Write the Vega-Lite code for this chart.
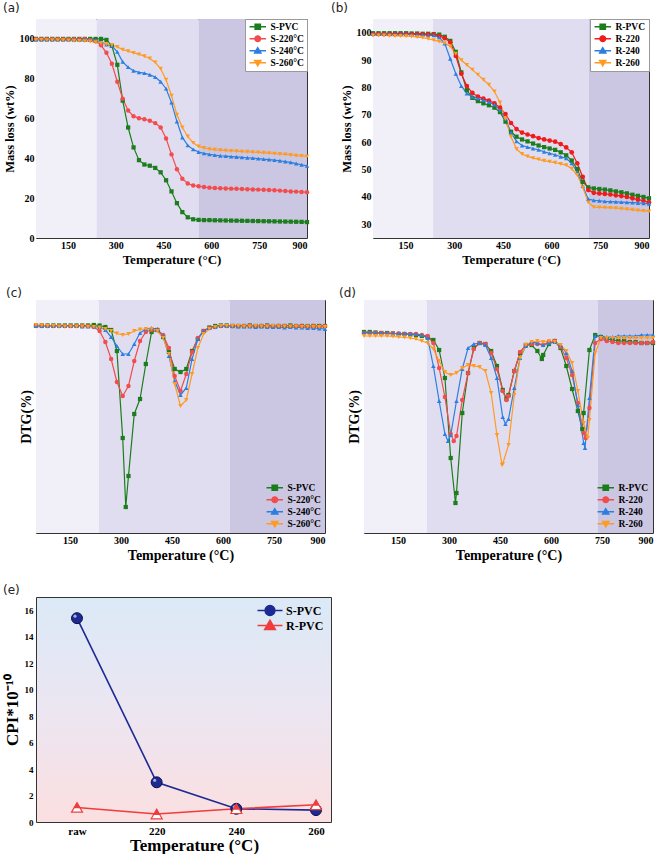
{
"$schema": "https://vega.github.io/schema/vega-lite/v6.json",
"padding": {"left": 2, "top": 1, "right": 0, "bottom": 0},
"background": "white",
"config": {
  "font": "Liberation Serif",
  "view": {"stroke": "#333", "strokeWidth": 1},
  "axis": {"labelFont": "Liberation Serif", "labelFontWeight": "bold", "labelFontSize": 10, "labelColor": "#000", "titleFont": "Liberation Serif", "titleFontWeight": "bold", "titleFontSize": 12.5, "titleColor": "#000", "domain": false, "grid": false, "ticks": false, "labelPadding": 2, "titlePadding": 3, "minExtent": 0},
  "title": {"anchor": "start", "frame": "bounds", "font": "DejaVu Sans", "fontSize": 12, "fontWeight": "normal", "color": "#222", "offset": 4},
  "legend": {"padding": 3, "offset": 0, "labelFont": "Liberation Serif", "labelFontWeight": "bold", "labelFontSize": 9.5, "labelColor": "#000", "symbolSize": 40, "symbolStrokeWidth": 1.3, "symbolOffset": 5, "labelOffset": 8, "rowPadding": 1, "cornerRadius": 0}
},
"datasets": {
"A": [
{"t":50,"S-PVC":100,"S-220°C":99.8,"S-240°C":99.6,"S-260°C":99.5},
{"t":67,"S-PVC":100,"S-220°C":99.8,"S-240°C":99.6,"S-260°C":99.5},
{"t":84,"S-PVC":100,"S-220°C":99.8,"S-240°C":99.6,"S-260°C":99.4},
{"t":101,"S-PVC":100,"S-220°C":99.8,"S-240°C":99.6,"S-260°C":99.4},
{"t":118,"S-PVC":100,"S-220°C":99.8,"S-240°C":99.6,"S-260°C":99.3},
{"t":135,"S-PVC":100,"S-220°C":99.8,"S-240°C":99.6,"S-260°C":99.3},
{"t":152,"S-PVC":100,"S-220°C":99.8,"S-240°C":99.6,"S-260°C":99.2},
{"t":169,"S-PVC":100,"S-220°C":99.8,"S-240°C":99.6,"S-260°C":99.1},
{"t":186,"S-PVC":100,"S-220°C":99.8,"S-240°C":99.6,"S-260°C":99.0},
{"t":203,"S-PVC":100,"S-220°C":99.8,"S-240°C":99.6,"S-260°C":98.9},
{"t":220,"S-PVC":100,"S-220°C":99.5,"S-240°C":99.6,"S-260°C":98.7},
{"t":237,"S-PVC":100,"S-220°C":98.8,"S-240°C":99.3,"S-260°C":98.3},
{"t":254,"S-PVC":100,"S-220°C":96.8,"S-240°C":98.5,"S-260°C":97.8},
{"t":271,"S-PVC":99.5,"S-220°C":93,"S-240°C":97.2,"S-260°C":97.3},
{"t":288,"S-PVC":96.5,"S-220°C":87.5,"S-240°C":96.5,"S-260°C":96.8},
{"t":305,"S-PVC":87,"S-220°C":78.5,"S-240°C":93.5,"S-260°C":96},
{"t":322,"S-PVC":69,"S-220°C":70,"S-240°C":88.5,"S-260°C":94.6},
{"t":339,"S-PVC":55.5,"S-220°C":64,"S-240°C":85.8,"S-260°C":93.8},
{"t":356,"S-PVC":45.5,"S-220°C":61.2,"S-240°C":84,"S-260°C":93},
{"t":373,"S-PVC":39.1,"S-220°C":60.2,"S-240°C":83.2,"S-260°C":92.2},
{"t":390,"S-PVC":36.9,"S-220°C":59.7,"S-240°C":82.8,"S-260°C":91.3},
{"t":407,"S-PVC":36.3,"S-220°C":58.9,"S-240°C":82,"S-260°C":90.2},
{"t":424,"S-PVC":35.2,"S-220°C":57.7,"S-240°C":80.8,"S-260°C":88.2},
{"t":441,"S-PVC":33,"S-220°C":55.5,"S-240°C":78.5,"S-260°C":85},
{"t":458,"S-PVC":29,"S-220°C":50,"S-240°C":75,"S-260°C":79.5},
{"t":475,"S-PVC":23.4,"S-220°C":42,"S-240°C":68,"S-260°C":71.5},
{"t":492,"S-PVC":17.5,"S-220°C":34.5,"S-240°C":58.5,"S-260°C":62},
{"t":509,"S-PVC":13,"S-220°C":29.8,"S-240°C":50.5,"S-260°C":55.5},
{"t":526,"S-PVC":10.4,"S-220°C":27.4,"S-240°C":46.5,"S-260°C":51},
{"t":543,"S-PVC":9.4,"S-220°C":26.4,"S-240°C":44.5,"S-260°C":47.8},
{"t":560,"S-PVC":9.1,"S-220°C":26,"S-240°C":43.2,"S-260°C":46},
{"t":577,"S-PVC":9.0,"S-220°C":25.6,"S-240°C":42.5,"S-260°C":45.2},
{"t":594,"S-PVC":9.0,"S-220°C":25.3,"S-240°C":42,"S-260°C":44.6},
{"t":611,"S-PVC":8.9,"S-220°C":25.1,"S-240°C":41.6,"S-260°C":44.3},
{"t":628,"S-PVC":8.85,"S-220°C":25,"S-240°C":41.3,"S-260°C":44.1},
{"t":645,"S-PVC":8.8,"S-220°C":24.9,"S-240°C":41.1,"S-260°C":43.9},
{"t":662,"S-PVC":8.75,"S-220°C":24.8,"S-240°C":40.9,"S-260°C":43.7},
{"t":679,"S-PVC":8.7,"S-220°C":24.7,"S-240°C":40.7,"S-260°C":43.6},
{"t":696,"S-PVC":8.65,"S-220°C":24.6,"S-240°C":40.5,"S-260°C":43.4},
{"t":713,"S-PVC":8.6,"S-220°C":24.5,"S-240°C":40.3,"S-260°C":43.3},
{"t":730,"S-PVC":8.55,"S-220°C":24.4,"S-240°C":40.1,"S-260°C":43.1},
{"t":747,"S-PVC":8.5,"S-220°C":24.3,"S-240°C":39.9,"S-260°C":43},
{"t":764,"S-PVC":8.45,"S-220°C":24.2,"S-240°C":39.6,"S-260°C":42.8},
{"t":781,"S-PVC":8.4,"S-220°C":24.1,"S-240°C":39.4,"S-260°C":42.6},
{"t":798,"S-PVC":8.35,"S-220°C":24,"S-240°C":39.1,"S-260°C":42.4},
{"t":815,"S-PVC":8.3,"S-220°C":23.8,"S-240°C":38.8,"S-260°C":42.2},
{"t":832,"S-PVC":8.25,"S-220°C":23.6,"S-240°C":38.4,"S-260°C":42},
{"t":849,"S-PVC":8.2,"S-220°C":23.4,"S-240°C":38,"S-260°C":41.7},
{"t":866,"S-PVC":8.15,"S-220°C":23.3,"S-240°C":37.4,"S-260°C":41.4},
{"t":883,"S-PVC":8.1,"S-220°C":23.1,"S-240°C":36.8,"S-260°C":41.2},
{"t":900,"S-PVC":8.0,"S-220°C":23,"S-240°C":36.2,"S-260°C":41}
],
"B": [
{"t":50,"R-PVC":99.8,"R-220":99.5,"R-240":99.5,"R-260":99},
{"t":67,"R-PVC":99.8,"R-220":99.5,"R-240":99.5,"R-260":99},
{"t":84,"R-PVC":99.8,"R-220":99.5,"R-240":99.5,"R-260":99},
{"t":101,"R-PVC":99.8,"R-220":99.5,"R-240":99.5,"R-260":98.9},
{"t":118,"R-PVC":99.8,"R-220":99.5,"R-240":99.5,"R-260":98.8},
{"t":135,"R-PVC":99.8,"R-220":99.5,"R-240":99.5,"R-260":98.8},
{"t":152,"R-PVC":99.8,"R-220":99.5,"R-240":99.5,"R-260":98.7},
{"t":169,"R-PVC":99.7,"R-220":99.5,"R-240":99.4,"R-260":98.6},
{"t":186,"R-PVC":99.7,"R-220":99.4,"R-240":99.3,"R-260":98.4},
{"t":203,"R-PVC":99.6,"R-220":99.4,"R-240":99.2,"R-260":98.2},
{"t":220,"R-PVC":99.6,"R-220":99.4,"R-240":99.1,"R-260":97.8},
{"t":237,"R-PVC":99.5,"R-220":99.3,"R-240":99,"R-260":97.3},
{"t":254,"R-PVC":99.3,"R-220":98.8,"R-240":98.3,"R-260":96.8},
{"t":271,"R-PVC":98.5,"R-220":98,"R-240":96,"R-260":96.2},
{"t":288,"R-PVC":97,"R-220":96.5,"R-240":90.5,"R-260":95},
{"t":305,"R-PVC":93,"R-220":91.5,"R-240":85,"R-260":92.3},
{"t":322,"R-PVC":85.5,"R-220":85,"R-240":80.5,"R-260":90},
{"t":339,"R-PVC":79,"R-220":80.5,"R-240":77.8,"R-260":88.2},
{"t":356,"R-PVC":76.2,"R-220":78,"R-240":76.6,"R-260":86.5},
{"t":373,"R-PVC":75,"R-220":76.7,"R-240":76,"R-260":84.7},
{"t":390,"R-PVC":74.2,"R-220":75.9,"R-240":75.4,"R-260":82.8},
{"t":407,"R-PVC":73.5,"R-220":75.2,"R-240":74.7,"R-260":81},
{"t":424,"R-PVC":72.6,"R-220":74.2,"R-240":73.7,"R-260":78.5},
{"t":441,"R-PVC":71,"R-220":72.6,"R-240":71.8,"R-260":74.5},
{"t":458,"R-PVC":67.5,"R-220":70.3,"R-240":68.5,"R-260":68.5},
{"t":475,"R-PVC":63.8,"R-220":67,"R-240":63.5,"R-260":62},
{"t":492,"R-PVC":62,"R-220":64.8,"R-240":60.3,"R-260":57.5},
{"t":509,"R-PVC":61,"R-220":63.5,"R-240":58.8,"R-260":55.7},
{"t":526,"R-PVC":60.3,"R-220":62.8,"R-240":58.2,"R-260":54.8},
{"t":543,"R-PVC":59.5,"R-220":62.2,"R-240":57.7,"R-260":54.2},
{"t":560,"R-PVC":58.8,"R-220":61.5,"R-240":57.2,"R-260":53.7},
{"t":577,"R-PVC":58.2,"R-220":61,"R-240":56.5,"R-260":53.2},
{"t":594,"R-PVC":57.7,"R-220":60.6,"R-240":55.9,"R-260":52.9},
{"t":611,"R-PVC":57.2,"R-220":60.2,"R-240":55.4,"R-260":52.5},
{"t":628,"R-PVC":56.3,"R-220":59.3,"R-240":54.7,"R-260":52.1},
{"t":645,"R-PVC":55.2,"R-220":58.1,"R-240":54.1,"R-260":51.6},
{"t":662,"R-PVC":53.3,"R-220":56.3,"R-240":52.3,"R-260":50.3},
{"t":679,"R-PVC":50.2,"R-220":52.3,"R-240":49,"R-260":48},
{"t":696,"R-PVC":45.5,"R-220":47.3,"R-240":44,"R-260":43.5},
{"t":713,"R-PVC":43.5,"R-220":42.5,"R-240":39.2,"R-260":38},
{"t":730,"R-PVC":43.1,"R-220":41.5,"R-240":38.8,"R-260":36.3},
{"t":747,"R-PVC":42.9,"R-220":41.3,"R-240":38.6,"R-260":36.2},
{"t":764,"R-PVC":42.7,"R-220":41.1,"R-240":38.4,"R-260":36.1},
{"t":781,"R-PVC":42.4,"R-220":40.9,"R-240":38.3,"R-260":36},
{"t":798,"R-PVC":42,"R-220":40.6,"R-240":38.2,"R-260":35.9},
{"t":815,"R-PVC":41.7,"R-220":40.3,"R-240":38.1,"R-260":35.7},
{"t":832,"R-PVC":41.3,"R-220":40,"R-240":38,"R-260":35.5},
{"t":849,"R-PVC":40.8,"R-220":39.5,"R-240":37.9,"R-260":35.3},
{"t":866,"R-PVC":40.4,"R-220":39,"R-240":37.8,"R-260":35.1},
{"t":883,"R-PVC":40,"R-220":38.6,"R-240":37.7,"R-260":34.9},
{"t":900,"R-PVC":39.5,"R-220":38,"R-240":37.5,"R-260":34.7}
],
"C": [
{"t":50,"S-PVC":0.5,"S-220°C":0,"S-240°C":0,"S-260°C":1},
{"t":67,"S-PVC":0.5,"S-220°C":0,"S-240°C":0,"S-260°C":0.5},
{"t":84,"S-PVC":0.5,"S-220°C":0,"S-240°C":0,"S-260°C":0},
{"t":101,"S-PVC":0.5,"S-220°C":0,"S-240°C":0,"S-260°C":0},
{"t":118,"S-PVC":0.5,"S-220°C":0,"S-240°C":0,"S-260°C":-0.5},
{"t":135,"S-PVC":0.5,"S-220°C":0,"S-240°C":0,"S-260°C":-0.5},
{"t":152,"S-PVC":0.5,"S-220°C":0,"S-240°C":0,"S-260°C":-0.5},
{"t":169,"S-PVC":0.5,"S-220°C":0,"S-240°C":0,"S-260°C":-0.5},
{"t":186,"S-PVC":0.5,"S-220°C":0,"S-240°C":-0.5,"S-260°C":-0.5},
{"t":203,"S-PVC":0.5,"S-220°C":0,"S-240°C":-0.5,"S-260°C":-1},
{"t":220,"S-PVC":1,"S-220°C":-1,"S-240°C":-0.5,"S-260°C":-1},
{"t":237,"S-PVC":0.5,"S-220°C":-5,"S-240°C":-1,"S-260°C":-1.5},
{"t":254,"S-PVC":-1,"S-220°C":-16,"S-240°C":-4,"S-260°C":-3},
{"t":271,"S-PVC":-4,"S-220°C":-33,"S-240°C":-11,"S-260°C":-5},
{"t":288,"S-PVC":-25,"S-220°C":-56,"S-240°C":-20,"S-260°C":-7.5},
{"t":305,"S-PVC":-112,"S-220°C":-70,"S-240°C":-28,"S-260°C":-9},
{"t":314,"S-PVC":-181},
{"t":322,"S-PVC":-150,"S-220°C":-60,"S-240°C":-28,"S-260°C":-8},
{"t":339,"S-PVC":-88,"S-220°C":-35,"S-240°C":-18,"S-260°C":-5},
{"t":356,"S-PVC":-73,"S-220°C":-15,"S-240°C":-7,"S-260°C":-3.5},
{"t":373,"S-PVC":-38,"S-220°C":-6,"S-240°C":-3,"S-260°C":-3},
{"t":390,"S-PVC":-6,"S-220°C":-4,"S-240°C":-2,"S-260°C":-3},
{"t":407,"S-PVC":-4,"S-220°C":-4,"S-240°C":-3,"S-260°C":-5},
{"t":424,"S-PVC":-11,"S-220°C":-9,"S-240°C":-10,"S-260°C":-12},
{"t":441,"S-PVC":-26,"S-220°C":-22,"S-240°C":-30,"S-260°C":-28},
{"t":458,"S-PVC":-43,"S-220°C":-50,"S-240°C":-55,"S-260°C":-58},
{"t":475,"S-PVC":-46,"S-220°C":-65,"S-240°C":-69,"S-260°C":-80},
{"t":492,"S-PVC":-43,"S-220°C":-48,"S-240°C":-62,"S-260°C":-74},
{"t":509,"S-PVC":-25,"S-220°C":-26,"S-240°C":-33,"S-260°C":-48},
{"t":526,"S-PVC":-13,"S-220°C":-12,"S-240°C":-13,"S-260°C":-22},
{"t":543,"S-PVC":-5,"S-220°C":-5,"S-240°C":-5,"S-260°C":-8},
{"t":560,"S-PVC":-1.5,"S-220°C":-2,"S-240°C":-2,"S-260°C":-3},
{"t":577,"S-PVC":0,"S-220°C":-1,"S-240°C":-1,"S-260°C":-1},
{"t":594,"S-PVC":0.5,"S-220°C":0,"S-240°C":0,"S-260°C":0},
{"t":611,"S-PVC":0.5,"S-220°C":0,"S-240°C":0,"S-260°C":0},
{"t":628,"S-PVC":0,"S-220°C":0,"S-240°C":0,"S-260°C":0},
{"t":645,"S-PVC":0,"S-220°C":0,"S-240°C":-0.5,"S-260°C":0},
{"t":662,"S-PVC":0,"S-220°C":0,"S-240°C":-0.5,"S-260°C":-0.5},
{"t":679,"S-PVC":0.5,"S-220°C":0,"S-240°C":-0.5,"S-260°C":-0.5},
{"t":696,"S-PVC":0,"S-220°C":-0.5,"S-240°C":-1,"S-260°C":0},
{"t":713,"S-PVC":0,"S-220°C":0,"S-240°C":-0.5,"S-260°C":-0.5},
{"t":730,"S-PVC":0.5,"S-220°C":0,"S-240°C":-1,"S-260°C":-0.5},
{"t":747,"S-PVC":0,"S-220°C":-0.5,"S-240°C":-1,"S-260°C":0},
{"t":764,"S-PVC":0,"S-220°C":0,"S-240°C":-1,"S-260°C":-0.5},
{"t":781,"S-PVC":0,"S-220°C":0,"S-240°C":-1.5,"S-260°C":-0.5},
{"t":798,"S-PVC":0.5,"S-220°C":-0.5,"S-240°C":-1,"S-260°C":-0.5},
{"t":815,"S-PVC":0,"S-220°C":0,"S-240°C":-1.5,"S-260°C":-0.5},
{"t":832,"S-PVC":0,"S-220°C":0,"S-240°C":-1.5,"S-260°C":-1},
{"t":849,"S-PVC":0,"S-220°C":-0.5,"S-240°C":-2,"S-260°C":-0.5},
{"t":866,"S-PVC":0,"S-220°C":0,"S-240°C":-2,"S-260°C":-1},
{"t":883,"S-PVC":0,"S-220°C":-0.5,"S-240°C":-2.5,"S-260°C":-1},
{"t":900,"S-PVC":0,"S-220°C":0,"S-240°C":-3,"S-260°C":-1}
],
"D": [
{"t":50,"R-PVC":1,"R-220":0,"R-240":0.5,"R-260":-3},
{"t":67,"R-PVC":1,"R-220":0,"R-240":0.5,"R-260":-3},
{"t":84,"R-PVC":0.5,"R-220":0,"R-240":0,"R-260":-3},
{"t":101,"R-PVC":0,"R-220":0,"R-240":0,"R-260":-3},
{"t":118,"R-PVC":0,"R-220":-0.5,"R-240":0,"R-260":-3},
{"t":135,"R-PVC":-0.5,"R-220":-0.5,"R-240":-0.5,"R-260":-3.5},
{"t":152,"R-PVC":-1,"R-220":-0.5,"R-240":-0.5,"R-260":-4},
{"t":169,"R-PVC":-1,"R-220":-1,"R-240":-0.5,"R-260":-4.5},
{"t":186,"R-PVC":-1.5,"R-220":-1,"R-240":-1,"R-260":-5},
{"t":203,"R-PVC":-2,"R-220":-1,"R-240":-1,"R-260":-6},
{"t":220,"R-PVC":-3,"R-220":-2,"R-240":-2,"R-260":-8},
{"t":237,"R-PVC":-4,"R-220":-3,"R-240":-5,"R-260":-10},
{"t":254,"R-PVC":-7,"R-220":-10,"R-240":-33,"R-260":-16},
{"t":271,"R-PVC":-17,"R-220":-35,"R-240":-68,"R-260":-28},
{"t":288,"R-PVC":-45,"R-220":-64,"R-240":-101,"R-260":-39},
{"t":297,"R-240":-108},
{"t":305,"R-PVC":-125,"R-220":-101,"R-240":-102,"R-260":-42},
{"t":314,"R-220":-108},
{"t":319,"R-PVC":-170},
{"t":322,"R-PVC":-160,"R-220":-103,"R-240":-68,"R-260":-40},
{"t":339,"R-PVC":-80,"R-220":-67,"R-240":-36,"R-260":-35},
{"t":356,"R-PVC":-40,"R-220":-40,"R-240":-15,"R-260":-32},
{"t":373,"R-PVC":-15,"R-220":-16,"R-240":-11,"R-260":-33},
{"t":390,"R-PVC":-10,"R-220":-10,"R-240":-10,"R-260":-34},
{"t":407,"R-PVC":-11,"R-220":-11,"R-240":-12,"R-260":-38},
{"t":424,"R-PVC":-18,"R-220":-20,"R-240":-25,"R-260":-60},
{"t":441,"R-PVC":-33,"R-220":-36,"R-240":-45,"R-260":-102},
{"t":456,"R-260":-132},
{"t":458,"R-PVC":-57,"R-220":-58,"R-240":-84,"R-260":-131},
{"t":466,"R-240":-91},
{"t":469,"R-PVC":-66,"R-220":-67},
{"t":475,"R-PVC":-62,"R-220":-63,"R-240":-86,"R-260":-112},
{"t":492,"R-PVC":-38,"R-220":-38,"R-240":-55,"R-260":-62},
{"t":509,"R-PVC":-20,"R-220":-19,"R-240":-25,"R-260":-25},
{"t":526,"R-PVC":-12,"R-220":-12,"R-240":-13,"R-260":-12},
{"t":543,"R-PVC":-12,"R-220":-11,"R-240":-9,"R-260":-9},
{"t":560,"R-PVC":-18,"R-220":-11,"R-240":-10,"R-260":-8},
{"t":573,"R-PVC":-26},
{"t":577,"R-PVC":-22,"R-220":-12,"R-240":-12,"R-260":-9},
{"t":594,"R-PVC":-11,"R-220":-9,"R-240":-10,"R-260":-8},
{"t":611,"R-PVC":-8,"R-220":-8,"R-240":-9,"R-260":-9},
{"t":628,"R-PVC":-15,"R-220":-14,"R-240":-12,"R-260":-12},
{"t":645,"R-PVC":-33,"R-220":-25,"R-240":-20,"R-260":-18},
{"t":662,"R-PVC":-56,"R-220":-42,"R-240":-38,"R-260":-30},
{"t":679,"R-PVC":-78,"R-220":-70,"R-240":-72,"R-260":-58},
{"t":692,"R-PVC":-96},
{"t":696,"R-PVC":-80,"R-220":-100,"R-240":-110,"R-260":-90},
{"t":700,"R-240":-115},
{"t":702,"R-220":-105},
{"t":708,"R-260":-105},
{"t":713,"R-PVC":-17,"R-220":-75,"R-240":-65,"R-260":-87},
{"t":730,"R-PVC":-2,"R-220":-10,"R-240":-3,"R-260":-20},
{"t":747,"R-PVC":-4,"R-220":-6,"R-240":-3,"R-260":-5},
{"t":764,"R-PVC":-6,"R-220":-8,"R-240":-4,"R-260":-5},
{"t":781,"R-PVC":-7,"R-220":-9,"R-240":-4,"R-260":-5},
{"t":798,"R-PVC":-8,"R-220":-10,"R-240":-3,"R-260":-5},
{"t":815,"R-PVC":-8,"R-220":-10,"R-240":-3,"R-260":-5},
{"t":832,"R-PVC":-9,"R-220":-10,"R-240":-3,"R-260":-5},
{"t":849,"R-PVC":-9,"R-220":-10,"R-240":-3,"R-260":-5},
{"t":866,"R-PVC":-10,"R-220":-10,"R-240":-2,"R-260":-5},
{"t":883,"R-PVC":-10,"R-220":-10,"R-240":-2,"R-260":-5},
{"t":900,"R-PVC":-10,"R-220":-9,"R-240":-2,"R-260":-5}
],
"E": [
{"cat":"raw","series":"S-PVC","v":15.4},
{"cat":"220","series":"S-PVC","v":3.0},
{"cat":"240","series":"S-PVC","v":1.0},
{"cat":"260","series":"S-PVC","v":0.9},
{"cat":"raw","series":"R-PVC","v":1.1},
{"cat":"220","series":"R-PVC","v":0.6},
{"cat":"240","series":"R-PVC","v":1.0},
{"cat":"260","series":"R-PVC","v":1.3}
]
},
"columns": 1,
"align": "none",
"spacing": 20,
"resolve": {"scale": {"x": "independent", "y": "independent", "color": "independent", "fill": "independent", "stroke": "independent", "shape": "independent"}, "legend": {"color": "independent", "fill": "independent", "stroke": "independent", "shape": "independent"}},
"concat": [
{
"columns": 1,
"align": "none",
"spacing": 19,
"resolve": {"scale": {"x": "independent", "y": "independent", "color": "independent", "fill": "independent", "stroke": "independent", "shape": "independent"}, "legend": {"color": "independent", "fill": "independent", "stroke": "independent", "shape": "independent"}},
"concat": [
{
"spacing": 20,
"resolve": {"scale": {"x": "independent", "y": "independent", "color": "independent", "fill": "independent", "stroke": "independent", "shape": "independent"}, "legend": {"color": "independent", "fill": "independent", "stroke": "independent", "shape": "independent"}},
"hconcat": [
{
  "title": {"text": "(a)"},
  "width": 271, "height": 219,
  "encoding": {"x": {"field": "t", "type": "quantitative", "scale": {"domain": [50, 900], "nice": false, "zero": false}, "axis": {"values": [150, 300, 450, 600, 750, 900], "title": "Temperature (°C)", "titleFontSize": 13}}},
  "layer": [
    {"data": {"values": [{"t": 50, "t2": 240, "zone": "L"}, {"t": 240, "t2": 560, "zone": "M"}, {"t": 560, "t2": 900, "zone": "D"}]},
     "mark": {"type": "rect"},
     "encoding": {"x2": {"field": "t2"}, "fill": {"field": "zone", "type": "nominal", "scale": {"domain": ["L", "M", "D"], "range": ["#f1f0f8", "#e1ddf0", "#cbc6e1"]}, "legend": null}}},
    {"data": {"name": "A"},
     "transform": [{"fold": ["S-PVC", "S-220°C", "S-240°C", "S-260°C"], "as": ["series", "v"]}, {"filter": "isValid(datum.v)"}],
     "encoding": {"y": {"field": "v", "type": "quantitative", "scale": {"domain": [0, 110], "nice": false}, "axis": {"values": [0, 20, 40, 60, 80, 100], "title": "Mass loss (wt%)"}}},
     "layer": [
       {"transform": [{"filter": "datum.t < 0"}], "mark": {"type": "point", "filled": true, "size": 40, "strokeWidth": 1.3, "opacity": 1},
        "encoding": {
          "color": {"field": "series", "type": "nominal", "scale": {"domain": ["S-PVC", "S-220°C", "S-240°C", "S-260°C"], "range": ["#1b7d1b", "#f24c4c", "#2a7fe0", "#ff9a22"]}, "legend": {"orient": "top-right", "title": null, "fillColor": "white", "strokeColor": "#999", "clipHeight": 9.5}},
          "stroke": {"field": "series", "type": "nominal", "scale": {"domain": ["S-PVC", "S-220°C", "S-240°C", "S-260°C"], "range": ["#1b7d1b", "#f24c4c", "#2a7fe0", "#ff9a22"]}, "legend": {"orient": "top-right", "title": null, "fillColor": "white", "strokeColor": "#999", "clipHeight": 9.5}},
          "shape": {"field": "series", "type": "nominal", "scale": {"domain": ["S-PVC", "S-220°C", "S-240°C", "S-260°C"], "range": ["M-2.6,0H2.6M-0.86,-0.86H0.86V0.86H-0.86Z", "M-2.6,0H2.6M-0.92,0A0.92,0.92,0,1,1,0.92,0A0.92,0.92,0,1,1,-0.92,0Z", "M-2.6,0H2.6M0,-1.04L1.04,0.73L-1.04,0.73Z", "M-2.6,0H2.6M0,1.04L1.04,-0.73L-1.04,-0.73Z"]}, "legend": {"orient": "top-right", "title": null, "fillColor": "white", "strokeColor": "#999", "clipHeight": 9.5}}
        }},
       {"mark": {"type": "line", "strokeWidth": 1.2}, "encoding": {"color": {"field": "series", "type": "nominal", "scale": {"domain": ["S-PVC", "S-220°C", "S-240°C", "S-260°C"], "range": ["#1b7d1b", "#f24c4c", "#2a7fe0", "#ff9a22"]}, "legend": null}}},
       {"transform": [{"filter": "datum.series === 'S-PVC'"}], "mark": {"type": "point", "shape": "square", "filled": true, "size": 18, "color": "#1b7d1b", "opacity": 1}},
       {"transform": [{"filter": "datum.series === 'S-220°C'"}], "mark": {"type": "point", "shape": "circle", "filled": true, "size": 20, "color": "#f24c4c", "opacity": 1}},
       {"transform": [{"filter": "datum.series === 'S-240°C'"}], "mark": {"type": "point", "shape": "triangle-up", "filled": true, "size": 20, "color": "#2a7fe0", "opacity": 1}},
       {"transform": [{"filter": "datum.series === 'S-260°C'"}], "mark": {"type": "point", "shape": "triangle-down", "filled": true, "size": 20, "color": "#ff9a22", "opacity": 1}}
     ]}
  ]
},
{
  "title": {"text": "(b)", "dx": -9},
  "width": 276, "height": 219,
  "encoding": {"x": {"field": "t", "type": "quantitative", "scale": {"domain": [50, 900], "nice": false, "zero": false}, "axis": {"values": [150, 300, 450, 600, 750, 900], "title": "Temperature (°C)", "titleFontSize": 13}}},
  "layer": [
    {"data": {"values": [{"t": 50, "t2": 235, "zone": "L"}, {"t": 235, "t2": 715, "zone": "M"}, {"t": 715, "t2": 900, "zone": "D"}]},
     "mark": {"type": "rect"},
     "encoding": {"x2": {"field": "t2"}, "fill": {"field": "zone", "type": "nominal", "scale": {"domain": ["L", "M", "D"], "range": ["#f1f0f8", "#e1ddf0", "#cbc6e1"]}, "legend": null}}},
    {"data": {"name": "B"},
     "transform": [{"fold": ["R-PVC", "R-220", "R-240", "R-260"], "as": ["series", "v"]}, {"filter": "isValid(datum.v)"}],
     "encoding": {"y": {"field": "v", "type": "quantitative", "scale": {"domain": [25, 105], "nice": false, "zero": false}, "axis": {"values": [30, 40, 50, 60, 70, 80, 90, 100], "title": "Mass loss (wt%)"}}},
     "layer": [
       {"transform": [{"filter": "datum.t < 0"}], "mark": {"type": "point", "filled": true, "size": 40, "strokeWidth": 1.3, "opacity": 1},
        "encoding": {
          "color": {"field": "series", "type": "nominal", "scale": {"domain": ["R-PVC", "R-220", "R-240", "R-260"], "range": ["#1b7d1b", "#f01c1c", "#2a7fe0", "#ff9a22"]}, "legend": {"orient": "top-right", "title": null, "fillColor": "white", "strokeColor": "#999", "clipHeight": 9.5}},
          "stroke": {"field": "series", "type": "nominal", "scale": {"domain": ["R-PVC", "R-220", "R-240", "R-260"], "range": ["#1b7d1b", "#f01c1c", "#2a7fe0", "#ff9a22"]}, "legend": {"orient": "top-right", "title": null, "fillColor": "white", "strokeColor": "#999", "clipHeight": 9.5}},
          "shape": {"field": "series", "type": "nominal", "scale": {"domain": ["R-PVC", "R-220", "R-240", "R-260"], "range": ["M-2.6,0H2.6M-0.86,-0.86H0.86V0.86H-0.86Z", "M-2.6,0H2.6M-0.92,0A0.92,0.92,0,1,1,0.92,0A0.92,0.92,0,1,1,-0.92,0Z", "M-2.6,0H2.6M0,-1.04L1.04,0.73L-1.04,0.73Z", "M-2.6,0H2.6M0,1.04L1.04,-0.73L-1.04,-0.73Z"]}, "legend": {"orient": "top-right", "title": null, "fillColor": "white", "strokeColor": "#999", "clipHeight": 9.5}}
        }},
       {"mark": {"type": "line", "strokeWidth": 1.2}, "encoding": {"color": {"field": "series", "type": "nominal", "scale": {"domain": ["R-PVC", "R-220", "R-240", "R-260"], "range": ["#1b7d1b", "#f01c1c", "#2a7fe0", "#ff9a22"]}, "legend": null}}},
       {"transform": [{"filter": "datum.series === 'R-PVC'"}], "mark": {"type": "point", "shape": "square", "filled": true, "size": 18, "color": "#1b7d1b", "opacity": 1}},
       {"transform": [{"filter": "datum.series === 'R-220'"}], "mark": {"type": "point", "shape": "circle", "filled": true, "size": 22, "color": "#f01c1c", "opacity": 1}},
       {"transform": [{"filter": "datum.series === 'R-240'"}], "mark": {"type": "point", "shape": "triangle-up", "filled": true, "size": 20, "color": "#2a7fe0", "opacity": 1}},
       {"transform": [{"filter": "datum.series === 'R-260'"}], "mark": {"type": "point", "shape": "triangle-down", "filled": true, "size": 20, "color": "#ff9a22", "opacity": 1}}
     ]}
  ]
}
]
},
{
"spacing": 10,
"resolve": {"scale": {"x": "independent", "y": "independent", "color": "independent", "fill": "independent", "stroke": "independent", "shape": "independent"}, "legend": {"color": "independent", "fill": "independent", "stroke": "independent", "shape": "independent"}},
"hconcat": [
{
  "title": {"text": "(c)", "dx": -13, "offset": 0},
  "width": 289, "height": 233,
  "encoding": {"x": {"field": "t", "type": "quantitative", "scale": {"domain": [50, 900], "nice": false, "zero": false}, "axis": {"values": [150, 300, 450, 600, 750, 900], "title": "Temperature (°C)", "titleFontSize": 14}}},
  "layer": [
    {"data": {"values": [{"t": 50, "t2": 235, "zone": "L"}, {"t": 235, "t2": 620, "zone": "M"}, {"t": 620, "t2": 900, "zone": "D"}]},
     "mark": {"type": "rect"},
     "encoding": {"x2": {"field": "t2"}, "fill": {"field": "zone", "type": "nominal", "scale": {"domain": ["L", "M", "D"], "range": ["#f1f0f8", "#e1ddf0", "#cbc6e1"]}, "legend": null}}},
    {"data": {"name": "C"},
     "transform": [{"fold": ["S-PVC", "S-220°C", "S-240°C", "S-260°C"], "as": ["series", "v"]}, {"filter": "isValid(datum.v)"}],
     "encoding": {"y": {"field": "v", "type": "quantitative", "scale": {"domain": [-207, 26], "nice": false, "zero": false}, "axis": {"labels": false, "title": "DTG(%)", "titlePadding": 3, "titleFontSize": 14}}},
     "layer": [
       {"transform": [{"filter": "datum.t < 0"}], "mark": {"type": "point", "filled": true, "size": 40, "strokeWidth": 1.3, "opacity": 1},
        "encoding": {
          "color": {"field": "series", "type": "nominal", "scale": {"domain": ["S-PVC", "S-220°C", "S-240°C", "S-260°C"], "range": ["#1b7d1b", "#f24c4c", "#2a7fe0", "#ff9a22"]}, "legend": {"orient": "bottom-right", "title": null, "offset": 1, "clipHeight": 9.5}},
          "stroke": {"field": "series", "type": "nominal", "scale": {"domain": ["S-PVC", "S-220°C", "S-240°C", "S-260°C"], "range": ["#1b7d1b", "#f24c4c", "#2a7fe0", "#ff9a22"]}, "legend": {"orient": "bottom-right", "title": null, "offset": 1, "clipHeight": 9.5}},
          "shape": {"field": "series", "type": "nominal", "scale": {"domain": ["S-PVC", "S-220°C", "S-240°C", "S-260°C"], "range": ["M-2.6,0H2.6M-0.86,-0.86H0.86V0.86H-0.86Z", "M-2.6,0H2.6M-0.92,0A0.92,0.92,0,1,1,0.92,0A0.92,0.92,0,1,1,-0.92,0Z", "M-2.6,0H2.6M0,-1.04L1.04,0.73L-1.04,0.73Z", "M-2.6,0H2.6M0,1.04L1.04,-0.73L-1.04,-0.73Z"]}, "legend": {"orient": "bottom-right", "title": null, "offset": 1, "clipHeight": 9.5}}
        }},
       {"mark": {"type": "line", "strokeWidth": 1.2}, "encoding": {"color": {"field": "series", "type": "nominal", "scale": {"domain": ["S-PVC", "S-220°C", "S-240°C", "S-260°C"], "range": ["#1b7d1b", "#f24c4c", "#2a7fe0", "#ff9a22"]}, "legend": null}}},
       {"transform": [{"filter": "datum.series === 'S-PVC'"}], "mark": {"type": "point", "shape": "square", "filled": true, "size": 18, "color": "#1b7d1b", "opacity": 1}},
       {"transform": [{"filter": "datum.series === 'S-220°C'"}], "mark": {"type": "point", "shape": "circle", "filled": true, "size": 20, "color": "#f24c4c", "opacity": 1}},
       {"transform": [{"filter": "datum.series === 'S-240°C'"}], "mark": {"type": "point", "shape": "triangle-up", "filled": true, "size": 20, "color": "#2a7fe0", "opacity": 1}},
       {"transform": [{"filter": "datum.series === 'S-260°C'"}], "mark": {"type": "point", "shape": "triangle-down", "filled": true, "size": 20, "color": "#ff9a22", "opacity": 1}}
     ]}
  ]
},
{
  "title": {"text": "(d)", "dx": -8, "offset": 0},
  "width": 289, "height": 233,
  "encoding": {"x": {"field": "t", "type": "quantitative", "scale": {"domain": [50, 900], "nice": false, "zero": false}, "axis": {"values": [150, 300, 450, 600, 750, 900], "title": "Temperature (°C)", "titleFontSize": 14}}},
  "layer": [
    {"data": {"values": [{"t": 50, "t2": 235, "zone": "L"}, {"t": 235, "t2": 738, "zone": "M"}, {"t": 738, "t2": 900, "zone": "D"}]},
     "mark": {"type": "rect"},
     "encoding": {"x2": {"field": "t2"}, "fill": {"field": "zone", "type": "nominal", "scale": {"domain": ["L", "M", "D"], "range": ["#f1f0f8", "#e1ddf0", "#cbc6e1"]}, "legend": null}}},
    {"data": {"name": "D"},
     "transform": [{"fold": ["R-PVC", "R-220", "R-240", "R-260"], "as": ["series", "v"]}, {"filter": "isValid(datum.v)"}],
     "encoding": {"y": {"field": "v", "type": "quantitative", "scale": {"domain": [-200, 33], "nice": false, "zero": false}, "axis": {"labels": false, "title": "DTG(%)", "titlePadding": 3, "titleFontSize": 14}}},
     "layer": [
       {"transform": [{"filter": "datum.t < 0"}], "mark": {"type": "point", "filled": true, "size": 40, "strokeWidth": 1.3, "opacity": 1},
        "encoding": {
          "color": {"field": "series", "type": "nominal", "scale": {"domain": ["R-PVC", "R-220", "R-240", "R-260"], "range": ["#1b7d1b", "#f24c4c", "#2a7fe0", "#ff9a22"]}, "legend": {"orient": "bottom-right", "title": null, "offset": 1, "clipHeight": 9.5}},
          "stroke": {"field": "series", "type": "nominal", "scale": {"domain": ["R-PVC", "R-220", "R-240", "R-260"], "range": ["#1b7d1b", "#f24c4c", "#2a7fe0", "#ff9a22"]}, "legend": {"orient": "bottom-right", "title": null, "offset": 1, "clipHeight": 9.5}},
          "shape": {"field": "series", "type": "nominal", "scale": {"domain": ["R-PVC", "R-220", "R-240", "R-260"], "range": ["M-2.6,0H2.6M-0.86,-0.86H0.86V0.86H-0.86Z", "M-2.6,0H2.6M-0.92,0A0.92,0.92,0,1,1,0.92,0A0.92,0.92,0,1,1,-0.92,0Z", "M-2.6,0H2.6M0,-1.04L1.04,0.73L-1.04,0.73Z", "M-2.6,0H2.6M0,1.04L1.04,-0.73L-1.04,-0.73Z"]}, "legend": {"orient": "bottom-right", "title": null, "offset": 1, "clipHeight": 9.5}}
        }},
       {"mark": {"type": "line", "strokeWidth": 1.2}, "encoding": {"color": {"field": "series", "type": "nominal", "scale": {"domain": ["R-PVC", "R-220", "R-240", "R-260"], "range": ["#1b7d1b", "#f24c4c", "#2a7fe0", "#ff9a22"]}, "legend": null}}},
       {"transform": [{"filter": "datum.series === 'R-PVC'"}], "mark": {"type": "point", "shape": "square", "filled": true, "size": 18, "color": "#1b7d1b", "opacity": 1}},
       {"transform": [{"filter": "datum.series === 'R-220'"}], "mark": {"type": "point", "shape": "circle", "filled": true, "size": 20, "color": "#f24c4c", "opacity": 1}},
       {"transform": [{"filter": "datum.series === 'R-240'"}], "mark": {"type": "point", "shape": "triangle-up", "filled": true, "size": 20, "color": "#2a7fe0", "opacity": 1}},
       {"transform": [{"filter": "datum.series === 'R-260'"}], "mark": {"type": "point", "shape": "triangle-down", "filled": true, "size": 20, "color": "#ff9a22", "opacity": 1}}
     ]}
  ]
}
]
}
]
},
{
"resolve": {"scale": {"x": "independent", "y": "independent", "color": "independent", "fill": "independent", "stroke": "independent", "shape": "independent"}, "legend": {"color": "independent", "fill": "independent", "stroke": "independent", "shape": "independent"}},
"hconcat": [
{
  "title": {"text": "(e)", "offset": 0},
  "width": 295, "height": 225,
  "view": {"fill": {"gradient": "linear", "x1": 0, "y1": 0, "x2": 0, "y2": 1, "stops": [{"offset": 0, "color": "#dbe9f6"}, {"offset": 0.5, "color": "#ece6f2"}, {"offset": 1, "color": "#fbdfe0"}]}, "stroke": "#333"},
  "data": {"name": "E"},
  "encoding": {
    "x": {"field": "cat", "type": "ordinal", "scale": {"type": "point", "domain": ["raw", "220", "240", "260"], "padding": 0.3515, "align": 0.732}, "axis": {"labelAngle": 0, "title": "Temperature (°C)", "titleFontSize": 17, "labelFontSize": 11, "labelPadding": 3, "titlePadding": 1, "titleX": 158}},
    "y": {"field": "v", "type": "quantitative", "scale": {"domain": [0, 17], "nice": false}, "axis": {"values": [0, 2, 4, 6, 8, 10, 12, 14, 16], "title": "CPI*10⁻¹⁰", "titleFontSize": 17, "labelFontSize": 9, "labelPadding": 3, "titlePadding": 3}}
  },
  "layer": [
    {"transform": [{"filter": "datum.v < 0"}], "mark": {"type": "point", "filled": true, "size": 100, "strokeWidth": 1.6, "opacity": 1},
     "encoding": {
       "color": {"field": "series", "type": "nominal", "scale": {"domain": ["S-PVC", "R-PVC"], "range": ["#1c2a92", "#f03c3c"]}, "legend": {"orient": "top-right", "title": null, "labelFontSize": 12, "symbolSize": 100, "symbolOffset": 8, "labelOffset": 10, "rowPadding": 2, "clipHeight": 13, "offset": 4}},
       "stroke": {"field": "series", "type": "nominal", "scale": {"domain": ["S-PVC", "R-PVC"], "range": ["#1a2090", "#f04a4a"]}, "legend": {"orient": "top-right", "title": null, "labelFontSize": 12, "symbolSize": 100, "symbolOffset": 8, "labelOffset": 10, "rowPadding": 2, "clipHeight": 13, "offset": 4}},
       "shape": {"field": "series", "type": "nominal", "scale": {"domain": ["S-PVC", "R-PVC"], "range": ["M-2.5,0H2.5M-1,0A1,1,0,1,1,1,0A1,1,0,1,1,-1,0Z", "M-2.5,0H2.5M0,-1.1L1.1,0.8L-1.1,0.8Z"]}, "legend": {"orient": "top-right", "title": null, "labelFontSize": 12, "symbolSize": 100, "symbolOffset": 8, "labelOffset": 10, "rowPadding": 2, "clipHeight": 13, "offset": 4}}
     }},
    {"mark": {"type": "line", "strokeWidth": 1.6}, "encoding": {"color": {"field": "series", "type": "nominal", "scale": {"domain": ["S-PVC", "R-PVC"], "range": ["#1a2090", "#f04a4a"]}, "legend": null}}},
    {"transform": [{"filter": "datum.series === 'S-PVC'"}], "mark": {"type": "point", "shape": "circle", "filled": true, "size": 120, "color": "#1c2a92", "stroke": "#0a0f50", "strokeWidth": 1, "opacity": 1}},
    {"transform": [{"filter": "datum.series === 'S-PVC'"}], "mark": {"type": "point", "shape": "circle", "filled": true, "size": 10, "color": "#c8d0f0", "opacity": 0.8, "xOffset": -2, "yOffset": -2}},
    {"transform": [{"filter": "datum.series === 'R-PVC'"}], "mark": {"type": "point", "shape": "triangle-up", "filled": true, "size": 120, "color": "#ffffff", "stroke": "#f03c3c", "strokeWidth": 1.2, "opacity": 1}},
    {"transform": [{"filter": "datum.series === 'R-PVC'"}], "mark": {"type": "point", "shape": "triangle-up", "filled": true, "size": 50, "color": "#f03c3c", "opacity": 1, "yOffset": -2.2}}
  ]
}
]
}
]
}
